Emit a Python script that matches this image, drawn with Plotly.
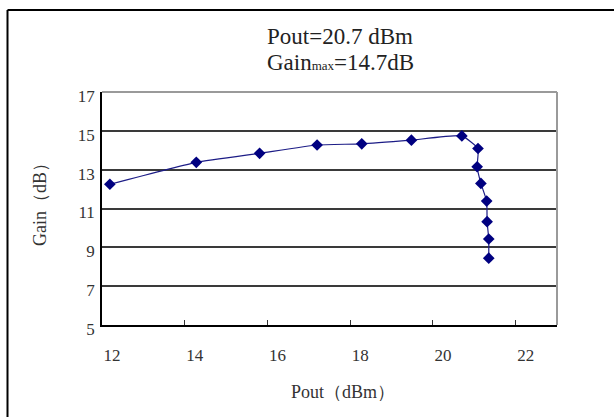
import plotly.graph_objects as go

# Data
pout_dbm = [12.19, 14.28, 15.81, 17.20, 18.28, 19.48, 20.70, 21.09, 21.07, 21.16, 21.30, 21.31, 21.35, 21.35]
gain_db = [12.25, 13.38, 13.84, 14.27, 14.33, 14.52, 14.74, 14.09, 13.15, 12.29, 11.38, 10.32, 9.43, 8.44]
x_ticks = [12, 14, 16, 18, 20, 22]
y_ticks = [5, 7, 9, 11, 13, 15, 17]
title_line1 = "Pout=20.7 dBm"
title_line2 = "Gain<span style='font-size:13px'>max</span>=14.7dB"
x_title = "Pout（dBm）"
y_title = "Gain（dB）"

W, H = 614, 417
L, R, T, B = 102, 57, 92, 92
pw, ph = W - L - R, H - T - B

def px2paper(px, py):
    return (px - L) / pw, (H - B - py) / ph

serif = "Liberation Serif, Times New Roman, serif"

fig = go.Figure()
fig.add_trace(go.Scatter(
    x=pout_dbm, y=gain_db, mode="lines+markers",
    line=dict(color="#1c1c86", width=1.2, shape="spline", smoothing=0.4),
    marker=dict(symbol="diamond", size=9, color="#000080"),
    showlegend=False, hoverinfo="x+y",
))

fig.update_layout(
    width=W, height=H,
    margin=dict(l=L, r=R, t=T, b=B),
    paper_bgcolor="white", plot_bgcolor="white",
    font=dict(family=serif, color="#333333"),
    xaxis=dict(range=[12, 23], tickvals=x_ticks, ticktext=[str(v) for v in x_ticks],
               showgrid=False, zeroline=False, showline=True, linecolor="black", linewidth=1.5,
               ticks="inside", ticklen=5, tickcolor="#333", tickwidth=1,
               tickfont=dict(size=17, family=serif, color="#333"),
               ticklabelshift=10, ticklabelstandoff=14),
    yaxis=dict(range=[5, 17], tickvals=y_ticks, ticktext=[str(v) for v in y_ticks],
               showgrid=True, gridcolor="#3a3a3a", gridwidth=1.5,
               zeroline=False, showline=True, linecolor="black", linewidth=1.5,
               ticks="",
               tickfont=dict(size=17, family=serif, color="#333"),
               ticklabelshift=4, ticklabelstandoff=2),
)

# plot-area top and right frame (gray)
fig.add_shape(type="line", xref="paper", yref="paper", x0=0, x1=1, y0=1, y1=1,
              line=dict(color="#9a9a9a", width=2))
fig.add_shape(type="line", xref="paper", yref="paper", x0=1, x1=1, y0=0, y1=1,
              line=dict(color="#9a9a9a", width=2))

# outer chart border (top and left visible)
x0p, y0p = px2paper(7.5, 10)
x1p, _ = px2paper(614, 10)
_, ybp = px2paper(7.5, 417)
fig.add_shape(type="line", xref="paper", yref="paper", x0=x0p, x1=x1p, y0=y0p, y1=y0p,
              line=dict(color="black", width=2))
fig.add_shape(type="line", xref="paper", yref="paper", x0=x0p, x1=x0p, y0=y0p, y1=ybp,
              line=dict(color="black", width=2))

# titles
tx, ty1 = px2paper(340, 37)
_, ty2 = px2paper(340, 63)
fig.add_annotation(x=tx, y=ty1, xref="paper", yref="paper", text=title_line1, showarrow=False,
                   font=dict(size=23, family=serif, color="#222"), xanchor="center", yanchor="middle")
fig.add_annotation(x=tx, y=ty2, xref="paper", yref="paper", text=title_line2, showarrow=False,
                   font=dict(size=23, family=serif, color="#222"), xanchor="center", yanchor="middle")

xtx, xty = px2paper(343, 392)
fig.add_annotation(x=xtx, y=xty, xref="paper", yref="paper", text=x_title, showarrow=False,
                   font=dict(size=18, family=serif, color="#333"), xanchor="center", yanchor="middle")
ytx, yty = px2paper(40, 200)
fig.add_annotation(x=ytx, y=yty, xref="paper", yref="paper", text=y_title, showarrow=False, textangle=-90,
                   font=dict(size=18, family=serif, color="#333"), xanchor="center", yanchor="middle")

fig.write_html("out.html")
